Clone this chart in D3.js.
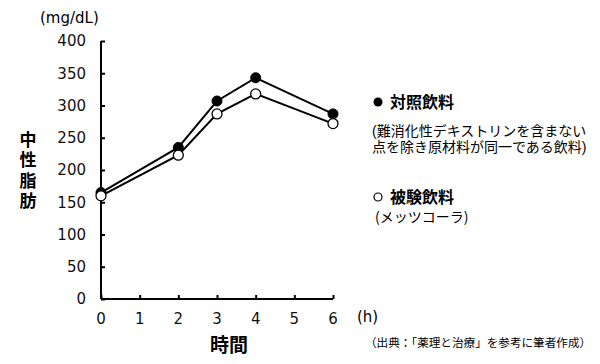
<!DOCTYPE html>
<html><head><meta charset="utf-8">
<script src="https://cdn.jsdelivr.net/npm/d3@7"></script>
<style>body{margin:0;background:#fff}svg{display:block}text{font-family:"Noto Sans CJK JP","Noto Sans",sans-serif}.num{font-family:"DejaVu Sans",sans-serif}.note{font-family:"Liberation Sans","Noto Sans CJK JP",sans-serif}</style>
</head><body>
<svg id="c" width="600" height="364"></svg>
<script>
const hours = [0, 2, 3, 4, 6];
const controlValues = [165, 235, 307, 343, 287];
const testValues = [160, 223, 287, 318, 272];
const xTicks = [0, 1, 2, 3, 4, 5, 6];
const yTicks = [0, 50, 100, 150, 200, 250, 300, 350, 400];
const controlNote = ["(難消化性デキストリンを含まない", "点を除き原材料が同一である飲料)"];

const svg = d3.select("#c");
const x = d3.scaleLinear().domain([0, 6]).range([101, 333]);
const y = d3.scaleLinear().domain([0, 400]).range([299, 41]);

const yAxis = svg.append("g").attr("transform", "translate(101,0)")
  .call(d3.axisRight(y).tickValues(yTicks).tickSize(4).tickFormat(""));
const xAxis = svg.append("g").attr("transform", "translate(0,299)")
  .call(d3.axisTop(x).tickValues(xTicks).tickSize(4).tickFormat(""));
[yAxis, xAxis].forEach(g => {
  g.select(".domain").attr("stroke", "#000").attr("stroke-width", 2);
  g.selectAll(".tick line").attr("stroke", "#000").attr("stroke-width", 2);
});
yAxis.select(".domain").attr("d", "M0,41V299");
xAxis.select(".domain").attr("d", "M101,0H333");

svg.append("g").selectAll("text").data(yTicks).join("text")
  .attr("class", "num")
  .attr("x", 86).attr("y", d => y(d)).attr("dy", "0.36em")
  .attr("text-anchor", "end").attr("font-size", 15).attr("fill", "#111").text(d => d);
svg.append("g").selectAll("text").data(xTicks).join("text")
  .attr("class", "num")
  .attr("x", d => x(d)).attr("y", 319).attr("dy", "0.36em")
  .attr("text-anchor", "middle").attr("font-size", 15).attr("fill", "#111").text(d => d);

svg.append("text").attr("class", "num").attr("x", 40).attr("y", 23).attr("font-size", 15).text("(mg/dL)");
svg.append("text").attr("class", "num").attr("x", 357).attr("y", 322).attr("font-size", 15).text("(h)");

svg.append("text").attr("x", 28).attr("y", 131)
  .attr("font-size", 17).attr("font-weight", "bold")
  .attr("style", "writing-mode:vertical-rl;letter-spacing:3.5px")
  .text("中性脂肪");
svg.append("text").attr("x", 229).attr("y", 345).attr("dy", "0.36em")
  .attr("text-anchor", "middle").attr("font-size", 19).attr("font-weight", "bold").text("時間");

const line = d3.line().x((d, i) => x(hours[i])).y(d => y(d));
svg.append("path").datum(testValues).attr("d", line).attr("fill", "none").attr("stroke", "#000").attr("stroke-width", 2);
svg.append("path").datum(controlValues).attr("d", line).attr("fill", "none").attr("stroke", "#000").attr("stroke-width", 2);
svg.append("g").selectAll("circle").data(controlValues).join("circle")
  .attr("cx", (d, i) => x(hours[i])).attr("cy", d => y(d)).attr("r", 5)
  .attr("fill", "#000").attr("stroke", "#000").attr("stroke-width", 1);
svg.append("g").selectAll("circle").data(testValues).join("circle")
  .attr("cx", (d, i) => x(hours[i])).attr("cy", d => y(d)).attr("r", 5)
  .attr("fill", "#fff").attr("stroke", "#000").attr("stroke-width", 1.3);

// legend
svg.append("circle").attr("cx", 378).attr("cy", 102).attr("r", 4.5).attr("fill", "#000");
svg.append("text").attr("x", 390).attr("y", 102).attr("dy", "0.36em").attr("font-size", 16).attr("font-weight", "bold").text("対照飲料");
svg.append("g").selectAll("text").data(controlNote).join("text")
  .attr("class", "note").attr("font-size", 14)
  .attr("x", 372).attr("y", (d, i) => 131 + i * 16).attr("dy", "0.36em").text(d => d);
svg.append("circle").attr("cx", 378).attr("cy", 197).attr("r", 4).attr("fill", "#fff").attr("stroke", "#000").attr("stroke-width", 1.2);
svg.append("text").attr("x", 390).attr("y", 197).attr("dy", "0.36em").attr("font-size", 16).attr("font-weight", "bold").text("被験飲料");
svg.append("text").attr("x", 375).attr("y", 217).attr("dy", "0.36em").attr("font-size", 14).text("(メッツコーラ)");
svg.append("text").attr("x", 365).attr("y", 343).attr("dy", "0.36em").attr("font-size", 11.6).text("（出典：「薬理と治療」を参考に筆者作成）");
</script>
</body></html>
